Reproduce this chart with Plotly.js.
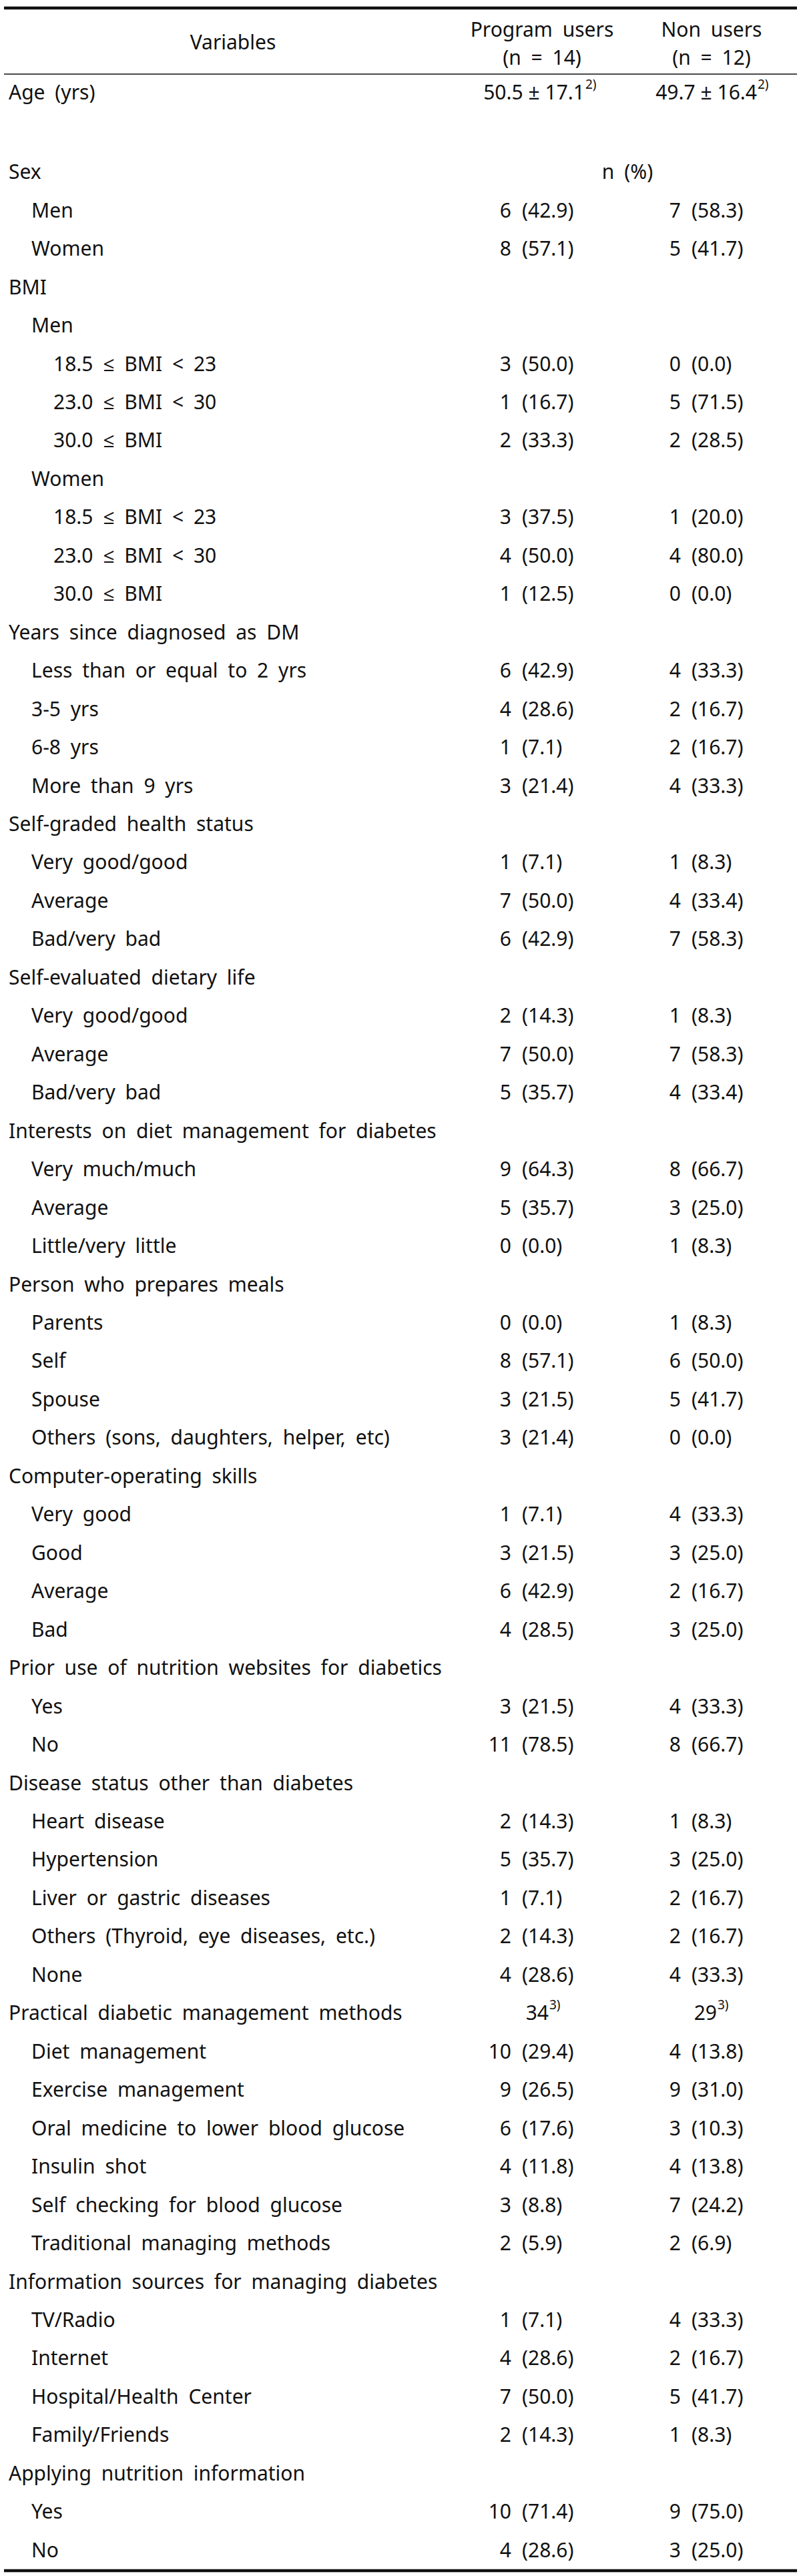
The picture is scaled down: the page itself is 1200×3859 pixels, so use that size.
<!DOCTYPE html>
<html>
<head>
<meta charset="utf-8">
<script src="https://cdn.plot.ly/plotly-3.0.1.min.js"></script>
<style>
html, body { margin: 0; padding: 0; background: #ffffff; }
#chart .scatterlayer .trace:nth-of-type(-n+3) text { word-spacing: 7px; }
</style>
</head>
<body>
<div id="chart" style="width:1200px;height:3859px;"></div>
<script>
// ---------- DATA ----------
const headerVariables = "Variables";
const groupNames = ["Program users", "Non users"];
const groupSizes = ["(n = 14)", "(n = 12)"];

const ageLabel = "Age (yrs)";
const ageMeanSD = ["50.5 ± 17.1", "49.7 ± 16.4"];
const ageNote = "2)";

const unitNote = "n (%)";

const rowLabels = [
  "Sex", "Men", "Women",
  "BMI", "Men", "18.5 ≤ BMI < 23", "23.0 ≤ BMI < 30", "30.0 ≤ BMI",
  "Women", "18.5 ≤ BMI < 23", "23.0 ≤ BMI < 30", "30.0 ≤ BMI",
  "Years since diagnosed as DM", "Less than or equal to 2 yrs", "3-5 yrs", "6-8 yrs", "More than 9 yrs",
  "Self-graded health status", "Very good/good", "Average", "Bad/very bad",
  "Self-evaluated dietary life", "Very good/good", "Average", "Bad/very bad",
  "Interests on diet management for diabetes", "Very much/much", "Average", "Little/very little",
  "Person who prepares meals", "Parents", "Self", "Spouse", "Others (sons, daughters, helper, etc)",
  "Computer-operating skills", "Very good", "Good", "Average", "Bad",
  "Prior use of nutrition websites for diabetics", "Yes", "No",
  "Disease status other than diabetes", "Heart disease", "Hypertension", "Liver or gastric diseases",
  "Others (Thyroid, eye diseases, etc.)", "None",
  "Practical diabetic management methods", "Diet management", "Exercise management",
  "Oral medicine to lower blood glucose", "Insulin shot", "Self checking for blood glucose",
  "Traditional managing methods",
  "Information sources for managing diabetes", "TV/Radio", "Internet", "Hospital/Health Center", "Family/Friends",
  "Applying nutrition information", "Yes", "No"
];

const rowLevels = [
  0, 1, 1,
  0, 1, 2, 2, 2,
  1, 2, 2, 2,
  0, 1, 1, 1, 1,
  0, 1, 1, 1,
  0, 1, 1, 1,
  0, 1, 1, 1,
  0, 1, 1, 1, 1,
  0, 1, 1, 1, 1,
  0, 1, 1,
  0, 1, 1, 1, 1, 1,
  0, 1, 1, 1, 1, 1, 1,
  0, 1, 1, 1, 1,
  0, 1, 1
];

const progN = [
  null, 6, 8,
  null, null, 3, 1, 2,
  null, 3, 4, 1,
  null, 6, 4, 1, 3,
  null, 1, 7, 6,
  null, 2, 7, 5,
  null, 9, 5, 0,
  null, 0, 8, 3, 3,
  null, 1, 3, 6, 4,
  null, 3, 11,
  null, 2, 5, 1, 2, 4,
  null, 10, 9, 6, 4, 3, 2,
  null, 1, 4, 7, 2,
  null, 10, 4
];
const progPct = [
  null, 42.9, 57.1,
  null, null, 50.0, 16.7, 33.3,
  null, 37.5, 50.0, 12.5,
  null, 42.9, 28.6, 7.1, 21.4,
  null, 7.1, 50.0, 42.9,
  null, 14.3, 50.0, 35.7,
  null, 64.3, 35.7, 0.0,
  null, 0.0, 57.1, 21.5, 21.4,
  null, 7.1, 21.5, 42.9, 28.5,
  null, 21.5, 78.5,
  null, 14.3, 35.7, 7.1, 14.3, 28.6,
  null, 29.4, 26.5, 17.6, 11.8, 8.8, 5.9,
  null, 7.1, 28.6, 50.0, 14.3,
  null, 71.4, 28.6
];
const nonN = [
  null, 7, 5,
  null, null, 0, 5, 2,
  null, 1, 4, 0,
  null, 4, 2, 2, 4,
  null, 1, 4, 7,
  null, 1, 7, 4,
  null, 8, 3, 1,
  null, 1, 6, 5, 0,
  null, 4, 3, 2, 3,
  null, 4, 8,
  null, 1, 3, 2, 2, 4,
  null, 4, 9, 3, 4, 7, 2,
  null, 4, 2, 5, 1,
  null, 9, 3
];
const nonPct = [
  null, 58.3, 41.7,
  null, null, 0.0, 71.5, 28.5,
  null, 20.0, 80.0, 0.0,
  null, 33.3, 16.7, 16.7, 33.3,
  null, 8.3, 33.4, 58.3,
  null, 8.3, 58.3, 33.4,
  null, 66.7, 25.0, 8.3,
  null, 8.3, 50.0, 41.7, 0.0,
  null, 33.3, 25.0, 16.7, 25.0,
  null, 33.3, 66.7,
  null, 8.3, 25.0, 16.7, 16.7, 33.3,
  null, 13.8, 31.0, 10.3, 13.8, 24.2, 6.9,
  null, 33.3, 16.7, 41.7, 8.3,
  null, 75.0, 25.0
];

// totals shown on the "Practical diabetic management methods" row
const methodsRow = "Practical diabetic management methods";
const methodsTotals = [34, 29];
const methodsNote = "3)";

// ---------- LAYOUT CONSTANTS ----------
const W = 1200, H = 3859;
const FONT = { family: "Noto Sans, Open Sans, sans-serif", size: 30, color: "#111111" };
const NOTE_FONT = { family: "Noto Sans, Open Sans, sans-serif", size: 19, color: "#111111" };
// Plotly puts the baseline 0.25em below the anchor; cap-centre is ~0.107em above it
const shiftFor = fs => 0.107 * fs;
const firstRowY = 257.5;         // centre of the "Sex" row
const rowPitch = 57.46;
const ageY = 138;
const headY1 = 44, headY2 = 86, headVarY = 63;
const indentX = [13, 47, 80];
const colCenter = [812, 1066];
const numRight = [766, 1020];
const pctLeft = [782, 1036];
const ageRight = [876, 1134];
const totalRight = [822, 1074];
const noteRaise = 12;
const varCenterX = 349;
const unitX = 940;

const rowC = i => firstRowY + i * rowPitch;      // cap-centre of row i
const Y = (c, fs) => c + shiftFor(fs || FONT.size);

function textTrace(xs, ys, texts, pos, font) {
  return {
    type: "scatter", mode: "text", x: xs, y: ys, text: texts,
    textposition: pos, textfont: font || FONT, hoverinfo: "skip", showlegend: false, cliponaxis: false
  };
}

const traces = [];

// 1) row labels (word-spaced)
traces.push(textTrace(
  rowLabels.map((_, i) => indentX[rowLevels[i]]),
  rowLabels.map((_, i) => Y(rowC(i))),
  rowLabels, "middle right"));

// 2) header texts, n(%) note (word-spaced)
traces.push(textTrace(
  [varCenterX, colCenter[0], colCenter[1], colCenter[0], colCenter[1], unitX],
  [Y(headVarY), Y(headY1), Y(headY1), Y(headY2), Y(headY2), Y(rowC(0))],
  [headerVariables, groupNames[0], groupNames[1], groupSizes[0], groupSizes[1], unitNote],
  "middle center"));
// 3) Age label (word-spaced)
traces.push(textTrace([indentX[0]], [Y(ageY)], [ageLabel], "middle right"));

// counts and percentages per group
[[progN, progPct], [nonN, nonPct]].forEach(([ns, ps], g) => {
  const xsN = [], ysN = [], tN = [], xsP = [], ysP = [], tP = [];
  ns.forEach((n, i) => {
    if (n === null) return;
    xsN.push(numRight[g]); ysN.push(Y(rowC(i))); tN.push(String(n));
    xsP.push(pctLeft[g]); ysP.push(Y(rowC(i))); tP.push("(" + ps[i].toFixed(1) + ")");
  });
  traces.push(textTrace(xsN, ysN, tN, "middle left"));
  traces.push(textTrace(xsP, ysP, tP, "middle right"));
});

// Age mean ± SD and totals (right-anchored), with their footnote marks
const mIdx = rowLabels.indexOf(methodsRow);
traces.push(textTrace(
  [ageRight[0], ageRight[1], totalRight[0], totalRight[1]],
  [Y(ageY), Y(ageY), Y(rowC(mIdx)), Y(rowC(mIdx))],
  [ageMeanSD[0], ageMeanSD[1], String(methodsTotals[0]), String(methodsTotals[1])],
  "middle left"));
traces.push(textTrace(
  [ageRight[0] + 1, ageRight[1] + 1, totalRight[0] + 1, totalRight[1] + 1],
  [Y(ageY - noteRaise, NOTE_FONT.size), Y(ageY - noteRaise, NOTE_FONT.size),
   Y(rowC(mIdx) - noteRaise, NOTE_FONT.size), Y(rowC(mIdx) - noteRaise, NOTE_FONT.size)],
  [ageNote, ageNote, methodsNote, methodsNote],
  "middle right", NOTE_FONT));

const layout = {
  width: W, height: H,
  margin: { l: 0, r: 0, t: 0, b: 0, pad: 0 },
  paper_bgcolor: "#ffffff", plot_bgcolor: "#ffffff",
  xaxis: { range: [0, W], visible: false, fixedrange: true },
  yaxis: { range: [H, 0], visible: false, fixedrange: true },
  showlegend: false, hovermode: false,
  shapes: [
    { type: "line", xref: "x", yref: "y", x0: 6, x1: 1194, y0: 12, y1: 12, line: { color: "#111", width: 4.5 } },
    { type: "line", xref: "x", yref: "y", x0: 6, x1: 1194, y0: 111, y1: 111, line: { color: "#111", width: 1.6 } },
    { type: "line", xref: "x", yref: "y", x0: 6, x1: 1194, y0: 3851, y1: 3851, line: { color: "#111", width: 4.5 } }
  ]
};

Plotly.newPlot("chart", traces, layout, { displayModeBar: false, staticPlot: true });
</script>
</body>
</html>
